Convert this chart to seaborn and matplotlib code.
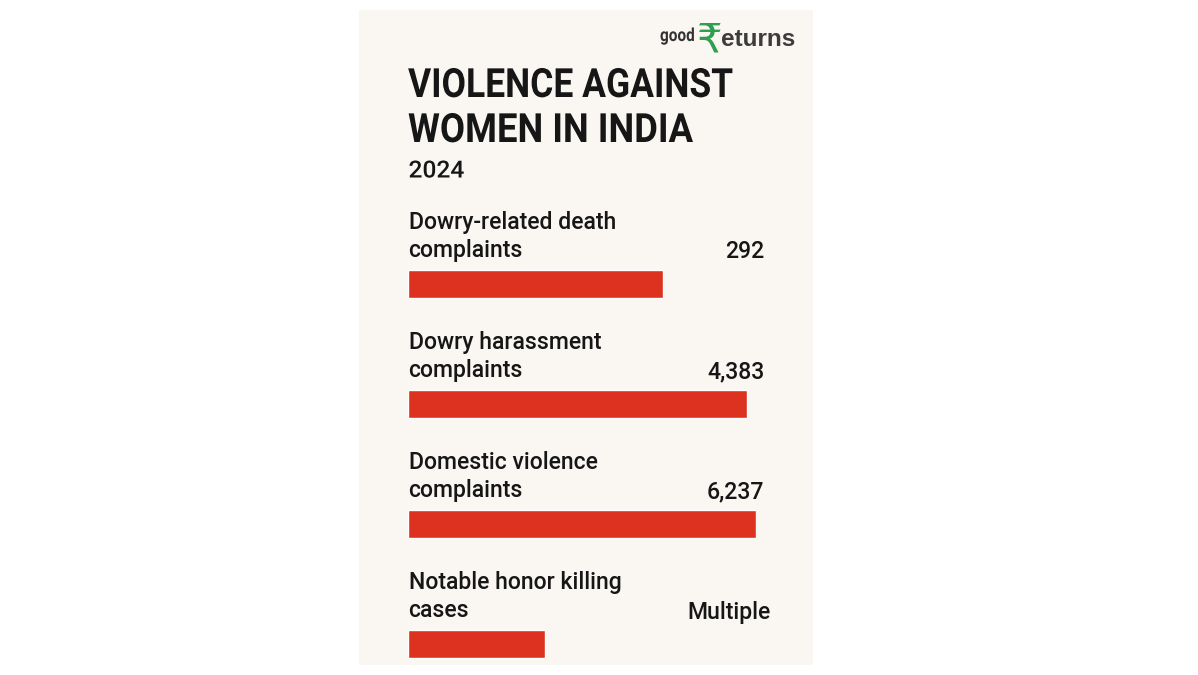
import pandas as pd
import matplotlib.pyplot as plt
from matplotlib.patches import Rectangle
from matplotlib.patheffects import AbstractPathEffect
from matplotlib.transforms import Affine2D
import seaborn as sns

# Данные с картинки
categories = [
    "Dowry-related death\ncomplaints",
    "Dowry harassment\ncomplaints",
    "Domestic violence\ncomplaints",
    "Notable honor killing\ncases",
]
value_labels = ["292", "4,383", "6,237", "Multiple"]
bar_lengths = [73.2, 97.4, 100, 39.5]

W, H = 1198, 675
BG = "#faf7f3"
RED = "#dc321f"
INK = "#161616"


class Narrow(AbstractPathEffect):
    """Сжимает текст по горизонтали, текст остается текстом"""

    def __init__(self, factor):
        super().__init__()
        self.factor = factor

    def draw_path(self, renderer, gc, tpath, affine, rgbFace=None):
        squeezed = Affine2D().scale(self.factor, 1) + affine
        renderer.draw_path(gc, tpath, squeezed, rgbFace)


sns.set_theme(style="white")
plt.rcParams["font.family"] = ["Roboto", "DejaVu Sans"]

data = pd.DataFrame({"category": categories, "length": bar_lengths})

fig = plt.figure(figsize=(W / 100, H / 100), dpi=100, facecolor="white")


def fx(px):
    return px / W


def fy(py):
    return 1 - py / H


# Светлая панель
fig.patches.append(
    Rectangle((fx(359), fy(665)), 454 / W, 655 / H, transform=fig.transFigure,
              facecolor=BG, edgecolor="none", zorder=-1)
)

# Оси только под полосы
ax = fig.add_axes([fx(408), fy(664), 348 / W, 440 / H])
ax.patch.set_alpha(0)
sns.barplot(data=data, x="length", y="category", orient="h", color=RED,
            saturation=1, width=0.23, ax=ax)
ax.set_xlim(0, 100)
ax.set_ylim(3.167, -0.5)
ax.axis("off")

# Заголовок
for text, py, squeeze in [("VIOLENCE AGAINST", 86, 0.88), ("WOMEN IN INDIA", 131, 0.905)]:
    fig.text(fx(408), fy(py), text, fontsize=29, fontweight="bold", color=INK, va="center",
             path_effects=[Narrow(squeeze)])
fig.text(fx(408.5), fy(171), "2024", fontsize=17, fontweight="medium", color=INK, va="center",
         path_effects=[Narrow(1.04)])

# Подписи и значения
for i, (cat, val) in enumerate(zip(categories, value_labels)):
    first, second = cat.split("\n")
    top = 222.5 + 120 * i
    fig.text(fx(408.5), fy(top), first, fontsize=16.6, fontweight="medium", color=INK, va="center")
    fig.text(fx(408.5), fy(top + 28), second, fontsize=16.6, fontweight="medium", color=INK, va="center")
    right = 770.5 if val == "Multiple" else 764.5
    fig.text(fx(right), fy(top + 29.5), val, fontsize=16.6, fontweight="medium", color=INK,
             ha="right", va="center")

# Логотип
fig.text(fx(660), fy(36), "good", fontsize=13, fontweight="bold", color="#333333", va="center",
         path_effects=[Narrow(0.85)])
fig.text(fx(697), fy(40), "₹", fontsize=29, family="DejaVu Sans", color="#2e9e4f", va="center")
fig.text(fx(721), fy(39), "eturns", fontsize=17.5, fontweight="bold",
         family="Liberation Sans", color="#3c3c3c", va="center")

fig.savefig("out.png", dpi=100)
